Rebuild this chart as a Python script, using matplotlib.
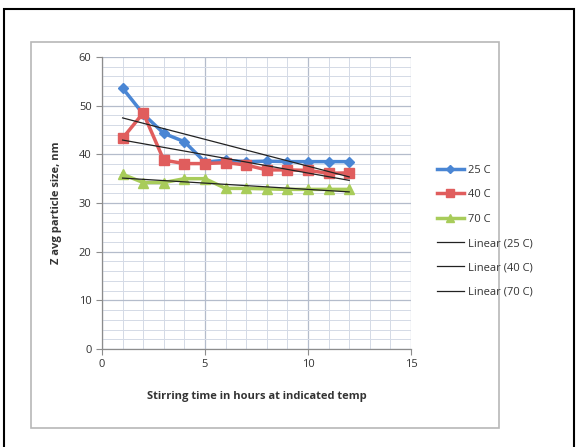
import numpy as np
import matplotlib
matplotlib.use("Agg")
import matplotlib.pyplot as plt
from matplotlib.patches import Rectangle
from matplotlib.ticker import MultipleLocator

plt.rcParams['font.family'] = ['Open Sans', 'DejaVu Sans']

hours = [1, 2, 3, 4, 5, 6, 7, 8, 9, 10, 11, 12]
t25 = [53.6, 48.3, 44.3, 42.6, 38.4, 38.8, 38.5, 38.6, 38.5, 38.5, 38.5, 38.5]
t40 = [43.3, 48.5, 38.8, 38.1, 38.1, 38.3, 37.8, 36.8, 36.8, 36.7, 36.1, 36.2]
t70 = [35.9, 34.2, 34.2, 35.0, 35.0, 33.0, 33.0, 32.9, 32.8, 32.8, 32.8, 32.8]
series_labels = ['25 C', '40 C', '70 C']
x_label = 'Stirring time in hours at indicated temp'
y_label = 'Z avg particle size, nm'

fig = plt.figure(figsize=(5.76, 4.47), dpi=100)
fig.patch.set_facecolor('white')

fig.add_artist(Rectangle((4/576, -0.01), 570/576, 1 - 9/447 + 0.01, transform=fig.transFigure,
                         fill=False, edgecolor='black', linewidth=1.5))
fig.add_artist(Rectangle((31/576, 1 - 428/447), 468/576, 386/447, transform=fig.transFigure,
                         fill=False, edgecolor='#b8b8b8', linewidth=1.2))

ax = fig.add_axes([102/576, 1 - 349/447, 309/576, 292/447])
ax.set_xlim(0, 15)
ax.set_ylim(0, 60)
ax.xaxis.set_major_locator(MultipleLocator(5))
ax.xaxis.set_minor_locator(MultipleLocator(1))
ax.yaxis.set_major_locator(MultipleLocator(10))
ax.yaxis.set_minor_locator(MultipleLocator(2))
ax.grid(which='major', color='#b4bccb', linewidth=0.9)
ax.grid(which='minor', color='#d4dae6', linewidth=0.7)
ax.set_axisbelow(True)
for s in ['top', 'right']:
    ax.spines[s].set_visible(False)
for s in ['left', 'bottom']:
    ax.spines[s].set_color('#8c8c8c')
    ax.spines[s].set_linewidth(0.9)
ax.tick_params(which='major', length=4, color='#8c8c8c', labelsize=8, labelcolor='#333333', direction='out')
ax.tick_params(which='minor', length=0)

colors = ['#4a86d4', '#e05d5d', '#a8cc5a']
markers = ['D', 's', '^']
msizes = [5.5, 7.5, 6.5]
handles = []
for ys, lab, c, m, ms in zip([t25, t40, t70], series_labels, colors, markers, msizes):
    h, = ax.plot(hours, ys, color=c, marker=m, markersize=ms, linewidth=2.5, label=lab)
    handles.append(h)

xs = np.array(hours, dtype=float)
for ys, lab in zip([t25, t40, t70], series_labels):
    k, b = np.polyfit(xs, np.array(ys), 1)
    h, = ax.plot(xs, k * xs + b, color='#222222', linewidth=0.9, label=f'Linear ({lab})')
    handles.append(h)

ax.set_xlabel(x_label, fontsize=8, fontweight='bold', color='#333333', labelpad=15)
ax.set_ylabel(y_label, fontsize=8, fontweight='bold', color='#333333', labelpad=12)

leg = fig.legend(handles=handles, loc='upper left', bbox_to_anchor=(437/576, 1 - 165/447),
                 frameon=False, fontsize=8, labelspacing=1.2, handlelength=2.4, handletextpad=0.4,
                 borderaxespad=0, borderpad=0, markerscale=0.8)
for t in leg.get_texts():
    t.set_color('#333333')

fig.savefig('out.png', dpi=100)
